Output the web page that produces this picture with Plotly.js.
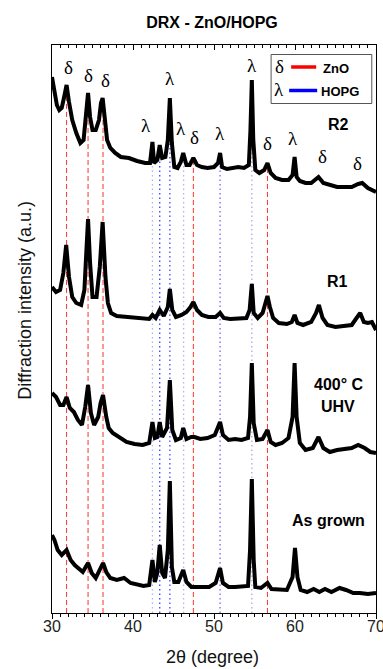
<!DOCTYPE html>
<html>
<head>
<meta charset="utf-8">
<script src="https://cdn.plot.ly/plotly-3.0.1.min.js"></script>
<style>html,body{margin:0;padding:0;background:#fff;}#chart{width:383px;height:669px;}</style>
</head>
<body>
<div id="chart"></div>
<script>
// ---- data (2θ in degrees, intensity in stacked arbitrary units) ----
const r2X = [30.0,30.3,30.6,30.9,31.2,31.5,31.8,32.1,32.5,33.0,33.5,33.9,34.2,34.45,34.7,35.0,35.4,35.8,36.05,36.25,36.5,36.8,37.2,37.8,38.5,39.5,40.5,41.5,42.1,42.4,42.6,43.0,43.3,43.6,44.0,44.3,44.55,44.8,45.1,45.5,45.9,46.2,46.6,47.0,47.45,47.9,48.5,49.2,50.0,50.5,50.75,51.0,51.6,52.3,53.0,53.7,54.3,54.5,54.67,54.85,55.1,55.6,56.2,56.6,57.0,57.6,58.4,59.2,59.7,59.95,60.2,60.6,61.3,62.0,62.9,63.5,64.3,65.2,66.0,67.0,67.8,68.3,69.0,70.0];
const r2Y = [536,520,508,503,505,516,528,511,493,480,470,473,500,520,496,483,483,493,510,515,496,473,465,460,456,455,452,450,450,471,450,453,468,455,456,473,515,470,446,445,451,460,448,448,455,448,446,445,446,450,460,446,444,445,446,445,448,483,533,473,443,440,443,450,440,435,433,433,438,456,436,432,430,430,436,430,428,426,426,426,429,430,425,421];

const r1X = [30.0,30.5,31.0,31.4,31.75,32.1,32.5,33.0,33.6,34.0,34.25,34.45,34.7,35.0,35.5,35.9,36.25,36.6,36.9,37.3,38.0,39.0,40.0,41.0,42.0,42.4,42.8,43.3,43.8,44.3,44.55,44.85,45.3,46.0,46.6,47.1,47.45,47.9,48.5,49.3,50.2,50.75,51.2,52.0,53.0,54.0,54.4,54.67,54.9,55.4,56.0,56.3,56.6,56.9,57.3,58.0,59.0,59.6,59.95,60.3,61.0,62.0,62.6,62.95,63.4,64.0,65.0,66.0,67.0,67.6,68.05,68.5,69.0,69.5,70.0];
const r1Y = [326,321,323,340,368,336,316,310,308,323,363,394,350,316,316,346,391,336,310,300,297,296,295,294,294,298,295,303,297,306,324,303,296,298,301,306,311,303,298,296,296,300,295,294,294,295,303,329,300,295,300,310,317,306,295,290,289,291,298,290,288,291,300,308,295,288,286,287,288,295,300,291,290,291,283];

const uhvX = [30.0,30.5,31.0,31.4,31.8,32.2,32.7,33.2,33.7,34.1,34.45,34.8,35.2,35.7,36.0,36.3,36.7,37.0,37.5,38.3,39.2,40.2,41.2,42.0,42.4,42.7,43.0,43.3,43.6,44.2,44.55,44.85,45.3,45.9,46.2,46.6,47.2,47.6,48.3,49.2,50.1,50.5,50.75,51.1,51.8,52.6,53.4,54.2,54.45,54.67,54.9,55.3,56.0,56.6,57.0,57.6,58.4,59.2,59.7,59.95,60.2,60.6,61.3,62.2,62.9,63.5,64.3,65.2,66.0,67.0,67.8,68.6,69.3,70.0];
const uhvY = [220,216,208,208,216,205,201,193,188,206,228,200,188,196,210,218,196,185,180,176,171,169,168,170,191,175,176,191,176,185,233,183,173,175,185,174,176,176,174,175,178,186,191,178,173,174,173,175,196,250,190,173,174,183,171,168,170,175,196,250,196,170,163,165,176,165,161,163,164,165,168,165,161,160];

const grownX = [30.0,30.3,30.7,31.2,31.8,32.3,32.8,33.3,33.8,34.45,34.9,35.4,35.9,36.3,36.7,37.2,38.0,38.9,39.7,40.5,41.3,42.0,42.4,42.7,43.0,43.3,43.6,43.95,44.3,44.55,44.8,45.1,45.6,46.2,46.6,47.2,47.9,48.6,49.4,50.2,50.75,51.1,51.8,52.6,53.4,54.2,54.45,54.67,54.9,55.1,55.8,56.6,57.1,58.0,59.0,59.7,60.0,60.3,60.7,61.5,62.3,63.0,63.7,64.5,65.5,66.3,67.2,68.0,69.0,70.0];
const grownY = [78,73,63,58,63,53,48,45,41,50,40,35,43,50,41,35,33,35,30,28,27,28,53,31,40,68,40,35,63,132,46,31,31,43,31,26,26,27,26,30,45,30,26,26,26,27,63,134,53,26,25,30,24,24,23,36,65,36,23,21,24,21,24,21,25,23,20,20,19,20];

const sampleNames = ["R2", "R1", "400° C", "UHV", "As grown"];

// reference peak positions (2θ)
const znoPeaks  = [31.8, 34.45, 36.3, 47.45, 56.6];
const hopgPeaks = [42.4, 43.3, 44.55, 46.25, 50.75, 54.67];

// peak labels: symbol, 2θ, height
const labelSym = ["δ","δ","δ","λ","λ","λ","δ","λ","λ","δ","λ","δ","δ"];
const labelX   = [32.05,34.55,36.6,44.57,41.55,45.95,47.65,50.75,54.68,56.6,59.75,63.35,67.75];
const labelY   = [546,538,533,535,488,485,476,480,548,470,475,457,450];

// ---- helpers ----
function interp(xs, ys, x) {
  for (let i = 0; i < xs.length - 1; i++) {
    if (x >= xs[i] && x <= xs[i+1]) {
      const t = (x - xs[i]) / (xs[i+1] - xs[i]);
      return ys[i] + t * (ys[i+1] - ys[i]);
    }
  }
  return ys[ys.length-1];
}
const hopgColors = ["#b4b4f0", "#3c3cff", "#4a4aff", "#b4b4f0", "#6a6aff", "#a8a8ee"];

const traces = [];
znoPeaks.forEach(p => {
  traces.push({x:[p,p], y:[0, interp(r2X, r2Y, p)], mode:'lines', hoverinfo:'skip',
    line:{color:'#ff3030', width:1, dash:'5px,3px'}, showlegend:false});
});
hopgPeaks.forEach((p, i) => {
  traces.push({x:[p,p], y:[0, interp(r2X, r2Y, p)], mode:'lines', hoverinfo:'skip',
    line:{color:hopgColors[i], width:1.3, dash:'1.5px,3px'}, showlegend:false});
});
[[r2X,r2Y],[r1X,r1Y],[uhvX,uhvY],[grownX,grownY]].forEach(s => {
  traces.push({x:s[0], y:s[1], mode:'lines', line:{color:'#000', width:4}, showlegend:false});
});
// empty trace so the mirrored top axis (inward ticks) is drawn
traces.push({x:[], y:[], xaxis:'x2', yaxis:'y', mode:'lines', showlegend:false});

// pixel -> paper helpers for decorations
const L = 52.3, R = 375.7, T = 45, B = 613;
const fx = px => (px - L) / (R - L);
const fy = py => (B - py) / (B - T);

const annotations = [];
labelSym.forEach((s, i) => {
  annotations.push({x:labelX[i], y:labelY[i], xref:'x', yref:'y', text:s, showarrow:false,
    xanchor:'center', yanchor:'middle',
    font:{family:'Liberation Serif, DejaVu Serif, serif', size:19, color:'#000'}});
});
const sampX = [65.4, 65.25, 65.4, 65.3, 64.15];
const sampY = [489, 332, 229, 207, 93];
sampleNames.forEach((s, i) => {
  annotations.push({x:sampX[i], y:sampY[i], xref:'x', yref:'y', text:'<b>'+s+'</b>', showarrow:false,
    xanchor:'center', yanchor:'middle',
    font:{family:'Liberation Sans, Arial, sans-serif', size:16, color:'#000'}});
});
function paperText(px, py, text, font, xanchor) {
  annotations.push({xref:'paper', yref:'paper', x:fx(px), y:fy(py), text:text, showarrow:false,
    xanchor:xanchor || 'center', yanchor:'middle', font:font});
}
const serif = {family:'Liberation Serif, serif', size:19, color:'#000'};
const legFont = {family:'Liberation Sans, Arial, sans-serif', size:13, color:'#000'};
paperText(279, 66, 'δ', serif);
paperText(279, 89, 'λ', serif);
paperText(321, 68, '<b>ZnO</b>', legFont, 'left');
paperText(318.5, 91, '<b>HOPG</b>', legFont, 'left');
// axis titles
annotations.push({xref:'paper', yref:'paper', x:fx(25), y:fy(300), textangle:-90, text:'Diffraction intensity (a.u.)',
  showarrow:false, xanchor:'center', yanchor:'middle',
  font:{family:'Liberation Sans, Arial, sans-serif', size:18, color:'#111'}});
annotations.push({xref:'paper', yref:'paper', x:fx(213), y:fy(657), text:'2θ (degree)',
  showarrow:false, xanchor:'center', yanchor:'middle',
  font:{family:'Liberation Sans, Arial, sans-serif', size:18, color:'#111'}});

const shapes = [
  {type:'rect', xref:'paper', yref:'paper', x0:fx(271), x1:fx(371.5), y0:fy(54.5), y1:fy(103.5),
   line:{color:'#555', width:1}, fillcolor:'#fff', layer:'above'},
  {type:'line', xref:'paper', yref:'paper', x0:fx(291), x1:fx(316), y0:fy(67), y1:fy(67),
   line:{color:'#ff0000', width:3.5}},
  {type:'line', xref:'paper', yref:'paper', x0:fx(289), x1:fx(317), y0:fy(90.5), y1:fy(90.5),
   line:{color:'#0000ff', width:3.5}}
];

const tickFont = {family:'Liberation Sans, Arial, sans-serif', size:16, color:'#222'};
const layout = {
  width:383, height:669,
  margin:{l:L, r:383-R, t:T, b:669-B, pad:0},
  paper_bgcolor:'#fff', plot_bgcolor:'#fff',
  title:{text:'<b>DRX - ZnO/HOPG</b>', x:fx(212), xref:'paper', xanchor:'center', y:1-22/669, yanchor:'middle',
    font:{family:'Liberation Sans, Arial, sans-serif', size:16, color:'#000'}},
  xaxis:{range:[30,70], dtick:10, tick0:30, ticks:'outside', ticklen:5, tickwidth:1, tickcolor:'#000',
    showline:true, linecolor:'#000', linewidth:1.2, mirror:true, showgrid:false, zeroline:false,
    ticklabeloverflow:'allow', ticklabelstandoff:-6,
    minor:{dtick:1, ticks:'outside', ticklen:3, tickcolor:'#000', tickwidth:1, showgrid:false},
    tickfont:tickFont},
  xaxis2:{overlaying:'x', matches:'x', side:'top', anchor:'y', range:[30,70], dtick:10, tick0:30,
    ticks:'inside', ticklen:5, tickwidth:1, tickcolor:'#000', showticklabels:false, showline:false,
    showgrid:false, zeroline:false,
    minor:{dtick:1, ticks:'inside', ticklen:3, tickcolor:'#000', tickwidth:1, showgrid:false}},
  yaxis:{range:[0,568], showticklabels:false, ticks:'', showline:true, linecolor:'#000', linewidth:1.2,
    mirror:true, showgrid:false, zeroline:false},
  annotations:annotations,
  shapes:shapes,
  showlegend:false
};

Plotly.newPlot('chart', traces, layout, {staticPlot:true, displayModeBar:false});
</script>
</body>
</html>
